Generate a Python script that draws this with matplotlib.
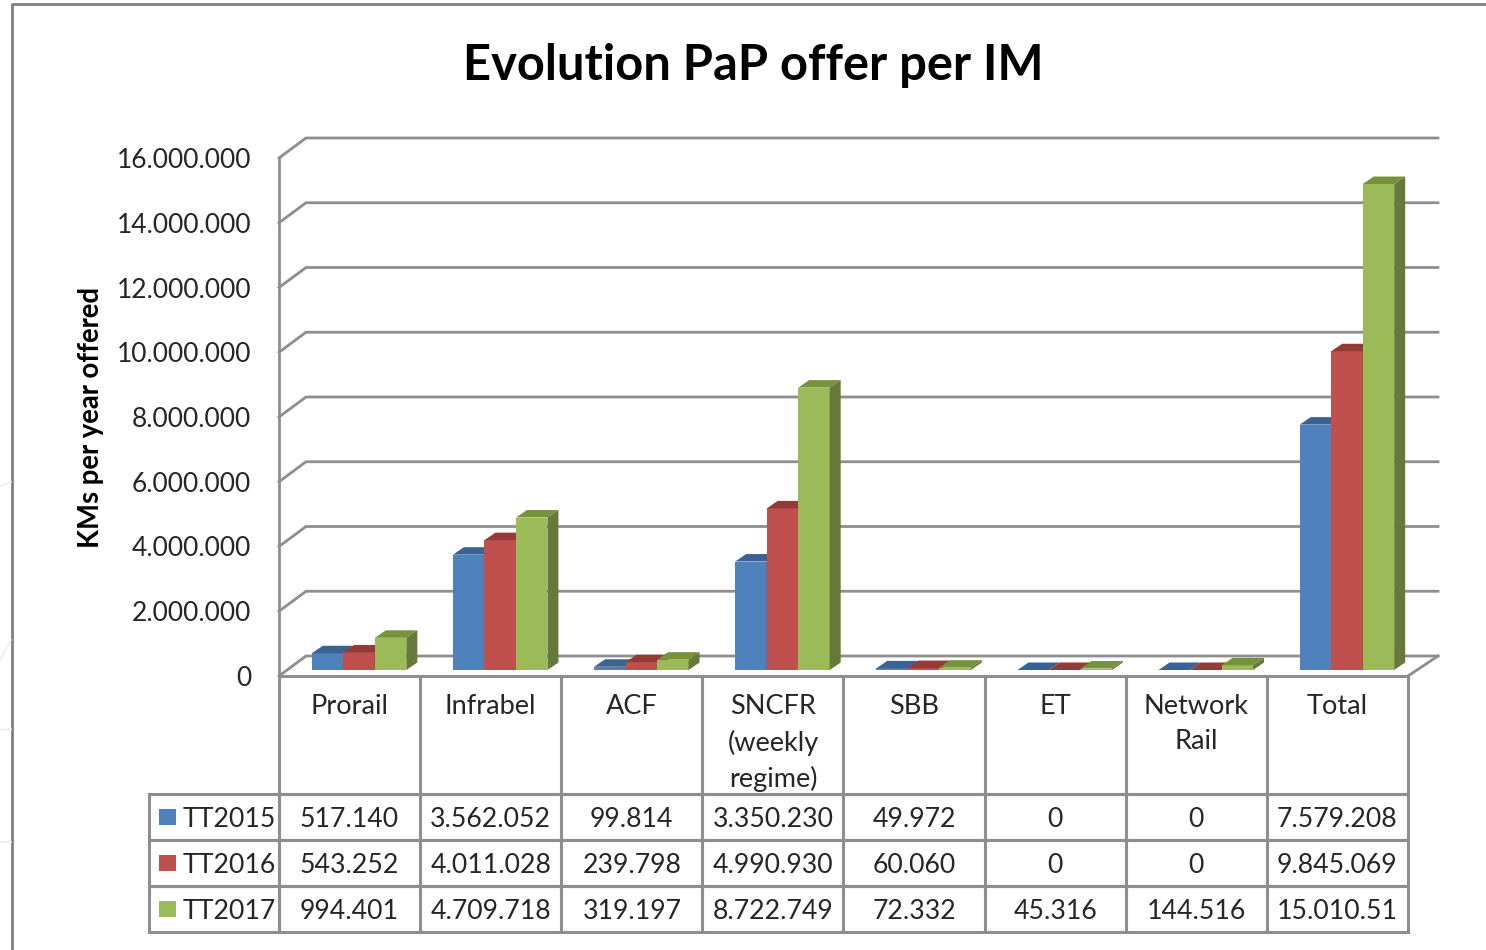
import matplotlib
matplotlib.use('Agg')
import matplotlib.pyplot as plt
from matplotlib.lines import Line2D
from matplotlib.patches import Polygon, Rectangle
from matplotlib.table import Table

W, H = 1486, 950

categories = ['Prorail', 'Infrabel', 'ACF', 'SNCFR\n(weekly\nregime)', 'SBB', 'ET', 'Network\nRail', 'Total']
series = ['TT2015', 'TT2016', 'TT2017']
tt2015 = [517140, 3562052, 99814, 3350230, 49972, 0, 0, 7579208]
tt2016 = [543252, 4011028, 239798, 4990930, 60060, 0, 0, 9845069]
tt2017 = [994401, 4709718, 319197, 8722749, 72332, 45316, 144516, 15010510]
labels2015 = ['517.140', '3.562.052', '99.814', '3.350.230', '49.972', '0', '0', '7.579.208']
labels2016 = ['543.252', '4.011.028', '239.798', '4.990.930', '60.060', '0', '0', '9.845.069']
labels2017 = ['994.401', '4.709.718', '319.197', '8.722.749', '72.332', '45.316', '144.516', '15.010.51']
yticks = [0, 2000000, 4000000, 6000000, 8000000, 10000000, 12000000, 14000000, 16000000]
ytick_labels = ['0', '2.000.000', '4.000.000', '6.000.000', '8.000.000', '10.000.000',
                '12.000.000', '14.000.000', '16.000.000']

front = ['#4f81bd', '#c0504d', '#9bbb59']
top = ['#3b6391', '#943b39', '#76923c']
side = ['#385d8a', '#8a3836', '#66793a']
GRID = '#8e8e8e'
TXT = '#262626'
FONT = 'Lato'

plt.rcParams['font.family'] = FONT

fig = plt.figure(figsize=(W / 100, H / 100), dpi=100)


def fx(x):
    return x / W


def fy(y):
    return 1 - y / H


# front plane of the fake 3d box
L, R, B, T = 279, 1408, 676, 158
ax = fig.add_axes([fx(L), fy(B), (R - L) / W, (B - T) / H])
ax.set_xlim(0, 8)
ax.set_ylim(0, 16000000)
for s in ax.spines.values():
    s.set_visible(False)
ax.patch.set_alpha(0)

px = 8 / (R - L)
py = 16000000 / (B - T)

# walls
wall_dx, wall_dy = 27 * px, 20 * py
for v in yticks:
    ax.plot([0, wall_dx, 8 + 30 * px], [v, v + wall_dy, v + wall_dy], color=GRID, lw=2,
            clip_on=False, zorder=1, solid_joinstyle='miter')
ax.plot([0, 0], [0, 16000000], color=GRID, lw=2, clip_on=False, zorder=1)
ax.plot([8, 8 + 30 * px], [0, wall_dy], color=GRID, lw=2, clip_on=False, zorder=1)

# bars
bar_w = 31.5 * px
base = 6 * py
dep_x, dep_y = 11 * px, 7.5 * py
shift = 9.5 * px
for k, vals in enumerate([tt2015, tt2016, tt2017]):
    xs = [i + 0.5 + shift + (k - 1) * bar_w for i in range(len(vals))]
    ax.bar(xs, vals, bar_w, bottom=base, color=front[k], zorder=3 + k, clip_on=False)
    for x, v in zip(xs, vals):
        x0, x1 = x - bar_w / 2, x + bar_w / 2
        yb, yt = base, base + v
        ax.add_patch(Polygon([(x0, yt), (x1, yt), (x1 + dep_x, yt + dep_y), (x0 + dep_x, yt + dep_y)],
                             fc=top[k], ec='none', zorder=3 + k, clip_on=False))
        ax.add_patch(Polygon([(x1, yb), (x1, yt), (x1 + dep_x, yt + dep_y), (x1 + dep_x, yb + dep_y)],
                             fc=side[k], ec='none', zorder=3 + k, clip_on=False))

ax.set_xticks([])
ax.set_yticks(yticks)
ax.set_yticklabels(ytick_labels, fontsize=19, color=TXT, va='center_baseline')
ax.tick_params(axis='y', length=0, pad=20)

# table below the plot
col_w = [130] + [(R - L) / 8] * 8
row_h = [118, 46, 46, 46]
tab = Table(ax, bbox=[(149 - L) / (R - L), -(932 - B) / (B - T), (R - 149) / (R - L), (932 - B) / (B - T)])
rows = [labels2015, labels2016, labels2017]
for c in range(8):
    tab.add_cell(0, c + 1, col_w[c + 1], row_h[0], text='', facecolor='none', edgecolor=GRID)
    for r in range(3):
        tab.add_cell(r + 1, c + 1, col_w[c + 1], row_h[r + 1], text=rows[r][c], loc='center',
                     facecolor='none', edgecolor=GRID)
for r in range(3):
    cell = tab.add_cell(r + 1, 0, col_w[0], row_h[r + 1], text=series[r], loc='left',
                        facecolor='none', edgecolor=GRID)
    cell.PAD = 34 / 130
tab.auto_set_font_size(False)
tab.set_fontsize(19.2)
for cell in tab.get_celld().values():
    cell.set_linewidth(2.2)
    cell.get_text().set_color(TXT)
    cell.get_text().set_verticalalignment('center_baseline')
tab.set_zorder(8)
ax.add_table(tab)

for i, name in enumerate(categories):
    ax.text(i + 0.5, -(694.5 - B) * py, name, ha='center', va='top', fontsize=19.5, color=TXT,
            linespacing=1.47, clip_on=False)

# legend keys in the first table column
for r in range(3):
    yc = 817 + r * 46
    fig.add_artist(Rectangle((fx(159), fy(yc + 8)), 17 / W, 16 / H, transform=fig.transFigure,
                             fc=front[r], ec='none'))

fig.text(fx(753), fy(65), 'Evolution PaP offer per IM', ha='center', va='center', fontsize=35.2,
         fontweight='bold', color='black')
fig.text(fx(91), fy(417), 'KMs per year offered', ha='center', va='center', rotation=90,
         fontsize=19.8, fontweight='bold', color='black')

# outer frame of the pasted chart
fig.add_artist(Line2D([fx(12), fx(12), 1], [0, fy(4), fy(4)], transform=fig.transFigure,
                      color='#808080', lw=2))

# faint remains of the slide background left of the frame
for xs_f, ys_f in [([0, 11], [486, 482]), ([0, 11], [660, 640]), ([0, 11], [730, 729]), ([0, 11], [842, 842])]:
    fig.add_artist(Line2D([fx(x) for x in xs_f], [fy(y) for y in ys_f], transform=fig.transFigure,
                          color='#ececec', lw=1.2))

fig.savefig('out.png', dpi=100)
